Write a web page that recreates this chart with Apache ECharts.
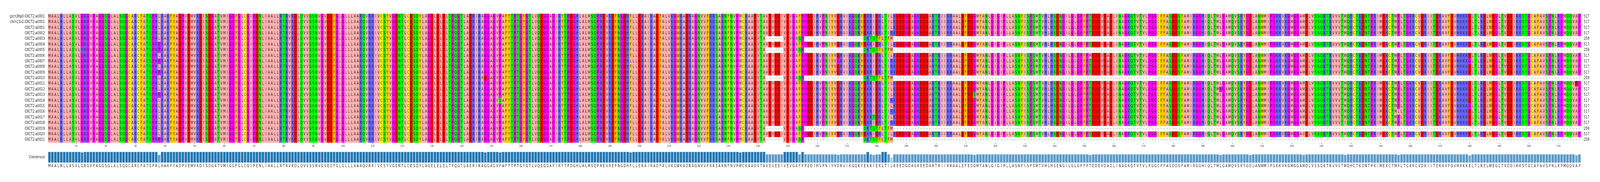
<!DOCTYPE html>
<html><head><meta charset="utf-8">
<script src="https://cdn.jsdelivr.net/npm/echarts@6/dist/echarts.min.js"></script>
<style>html,body{margin:0;padding:0;background:#fff;overflow:hidden}#c{width:5440px;height:467px;transform-origin:0 0}</style>
</head><body><div id="c"></div>
<script>
// reference residues, columns 1..517
const referenceSeq = [
 "MAALRLLASV","LGRGVPAGGS","GLALSQGCAR","CFATSPRLRA","KFYADPVEMV","KDISDGATVM","IGGFGLCGIP","ENLIAALLRT",
 "RVKDLQVVSS","NVGVEDFGLG","LLLAARQVRR","IVCSYVGENT","LCESQYLAGE","LELELTPQGT","LAERIRAGGA","GVPAFYTPTG",
 "YGTLVQEGGA","PIRYTPDGHL","ALMSQPREVR","EFNGDHFLLE","RAIRADFALV","KGWKADRAGN","VVFRRSARNF","NVPMCKAADV",
 "TAVEVEEIVE","VGAFPPEDIH","VPNIYVDRVI","KGQKYEKRIE","RLTILKEEDG","DAGKEEDART","RIIRRAALEF","EDGMYANLGI",
 "GIPLLASNFI","SPSMTVHLHS","ENGILGLGPF","PTEDEVDADL","INAGKQTVTV","LPGGCFFASD","DSFAMIRGGH","IQLTMLGAMQ",
 "VSKYGDLANW","MIPGKKVKGM","GGAMDLVSSQ","KTRVVVTMQH","CTKDNTPKIM","EKCTMPLTGK","RCVDRIITEK","AVFDVHRKKE",
 "LTLRELWEGL","TVDDIKKSTG","CAFAVSPNLR","PMQQVAP"
].join("");

const rowNames = ["grch38p0:OXCT2:a0001","chm13v2:OXCT2:a0001"];
for (let i = 1; i <= 21; i++) rowNames.push("OXCT2:a" + String(i).padStart(4, "0"));

// rows (0-based) that are the short isoform
const shortRows = [4, 6, 11, 20, 22];
const shortGapCols1 = [243, 248];
const shortCol254 = "S";
const shortGapCols2 = [256, 275];
const shortTail = "QKTSTFLTFM"; // cols 276..285, then gaps to 517

// substitutions: [row, column, residue]
const substitutions = [
 [6,12,"R"],
 [5,38,"P"],[6,38,"P"],[8,38,"P"],[10,38,"P"],[14,38,"P"],[22,38,"P"],
 [11,148,"E"],[15,153,"S"],[8,197,"L"],[20,234,"V"],[8,267,"G"],
 [18,279,"T"],
 [3,285,"R"],[8,285,"R"],[9,285,"R"],[10,285,"R"],[15,285,"R"],[17,285,"R"],[19,285,"R"],
 [14,313,"S"],[7,352,"M"],[13,396,"P"],[8,406,"E"],[21,424,"V"],[19,438,"I"],
 [17,456,"L"],[8,480,"G"],[16,480,"G"],[9,516,"V"],[12,516,"E"]
];

const N = referenceSeq.length;
const seqs = rowNames.map(() => referenceSeq.split(""));
shortRows.forEach(r => {
  const s = seqs[r];
  for (let c = shortGapCols1[0]; c <= shortGapCols1[1]; c++) s[c-1] = "-";
  s[253] = shortCol254;
  for (let c = shortGapCols2[0]; c <= shortGapCols2[1]; c++) s[c-1] = "-";
  for (let k = 0; k < shortTail.length; k++) s[275+k] = shortTail[k];
  for (let c = 286; c <= N; c++) s[c-1] = "-";
});
substitutions.forEach(([r,c,a]) => { seqs[r][c-1] = a; });
const rowLengths = seqs.map(s => s.filter(x => x !== "-").length);

const zappo = {I:"#ffafaf",L:"#ffafaf",V:"#ffafaf",A:"#ffafaf",M:"#ffafaf",
  F:"#ffc800",W:"#ffc800",Y:"#ffc800",K:"#6464ff",R:"#6464ff",H:"#6464ff",
  D:"#ff0000",E:"#ff0000",S:"#00ff00",T:"#00ff00",N:"#00ff00",Q:"#00ff00",
  P:"#ff00ff",G:"#ff00ff",C:"#ffff00"};

const consLetters = [], consFrac = [];
for (let c = 0; c < N; c++) {
  const cnt = {};
  seqs.forEach(s => { if (s[c] !== "-") cnt[s[c]] = (cnt[s[c]]||0)+1; });
  let best = "-", bn = 0;
  for (const k in cnt) if (cnt[k] > bn) { bn = cnt[k]; best = k; }
  consLetters.push(best); consFrac.push(bn / seqs.length);
}
function barColor(f){
  const t = Math.min(1, Math.max(0, (1-f)/0.7));
  const a=[31,119,180], b=[222,235,247];
  return "rgb(" + a.map((v,i)=>Math.round(v+(b[i]-v)*t)).join(",") + ")";
}

const cells = [];
for (let r = 0; r < seqs.length; r++) for (let c = 0; c < N; c++) cells.push([c, r]);
const cols = []; for (let c = 1; c <= N; c++) cols.push(String(c));
const consIdx = consLetters.map((l,i)=>"c"+i);

const el = document.getElementById("c");
// fit the 5440-wide page into a narrower viewport
const sx = Math.min(1, (window.innerWidth || 5440) / 5440);
if (sx < 1) el.style.transform = "scale(" + sx + ",1)";
const chart = echarts.init(el, null, {renderer:"canvas", width:5440, height:467});
const FONT = "DejaVu Sans";
chart.setOption({
  animation:false,
  textStyle:{fontFamily:FONT},
  grid:[
    {left:163, top:35, width:5212, height:331},
    {left:163, top:389, width:5212, height:29}
  ],
  xAxis:[
    {gridIndex:0, type:"category", data:cols,
     axisLine:{show:false},
     axisTick:{show:true, alignWithLabel:true, length:4, interval:(i)=>(i+1)%10===0, lineStyle:{color:"#555"}},
     axisLabel:{interval:(i)=>(i+1)%10===0, fontSize:7, color:"#333", margin:6, fontFamily:FONT}},
    {gridIndex:1, type:"category", data:consIdx,
     axisLine:{show:false}, axisTick:{show:false},
     axisLabel:{interval:0, fontSize:10, color:"#222", margin:3, fontFamily:FONT,
       formatter:(v,i)=>consLetters[i]}}
  ],
  yAxis:[
    {gridIndex:0, type:"category", data:rowNames, inverse:true,
     axisLine:{show:false}, axisTick:{show:false},
     axisLabel:{fontSize:10, color:"#222", margin:11, fontFamily:FONT}},
    {gridIndex:0, type:"category", data:rowNames.map((n,i)=>"r"+i), inverse:true, position:"right",
     axisLine:{show:false}, axisTick:{show:false},
     axisLabel:{fontSize:10, color:"#222", margin:10, fontFamily:FONT, formatter:(v,i)=>String(rowLengths[i])}},
    {gridIndex:1, type:"value", min:0, max:1, show:false}
  ],
  graphic:[{type:"text", left:99, top:398, style:{text:"Consensus", font:"10px DejaVu Sans", fill:"#222"}}],
  series:[
    {type:"custom", xAxisIndex:0, yAxisIndex:0, data:cells, encode:{x:0,y:1},
     progressive:0, animation:false,
     renderItem:function(params, api){
       const c = api.value(0), r = api.value(1);
       const ch = seqs[r][c];
       const p = api.coord([c, r]);
       const s = api.size([1, 1]);
       const children = [];
       if (ch !== "-") children.push({type:"rect", shape:{x:p[0]-s[0]/2, y:p[1]-s[1]/2, width:s[0]+0.3, height:s[1]+0.3}, style:{fill:zappo[ch]||"#ffffff"}});
       children.push({type:"text", style:{text:ch, x:p[0], y:p[1], align:"center", verticalAlign:"middle", font:"10px DejaVu Sans", fill:"#222"}});
       return {type:"group", children};
     }},
    {type:"bar", xAxisIndex:1, yAxisIndex:2, barCategoryGap:"0%",
     data:consFrac.map(f=>({value:f, itemStyle:{color:barColor(f)}})),
     itemStyle:{borderColor:"#e8eef5", borderWidth:1}}
  ]
});
</script></body></html>
